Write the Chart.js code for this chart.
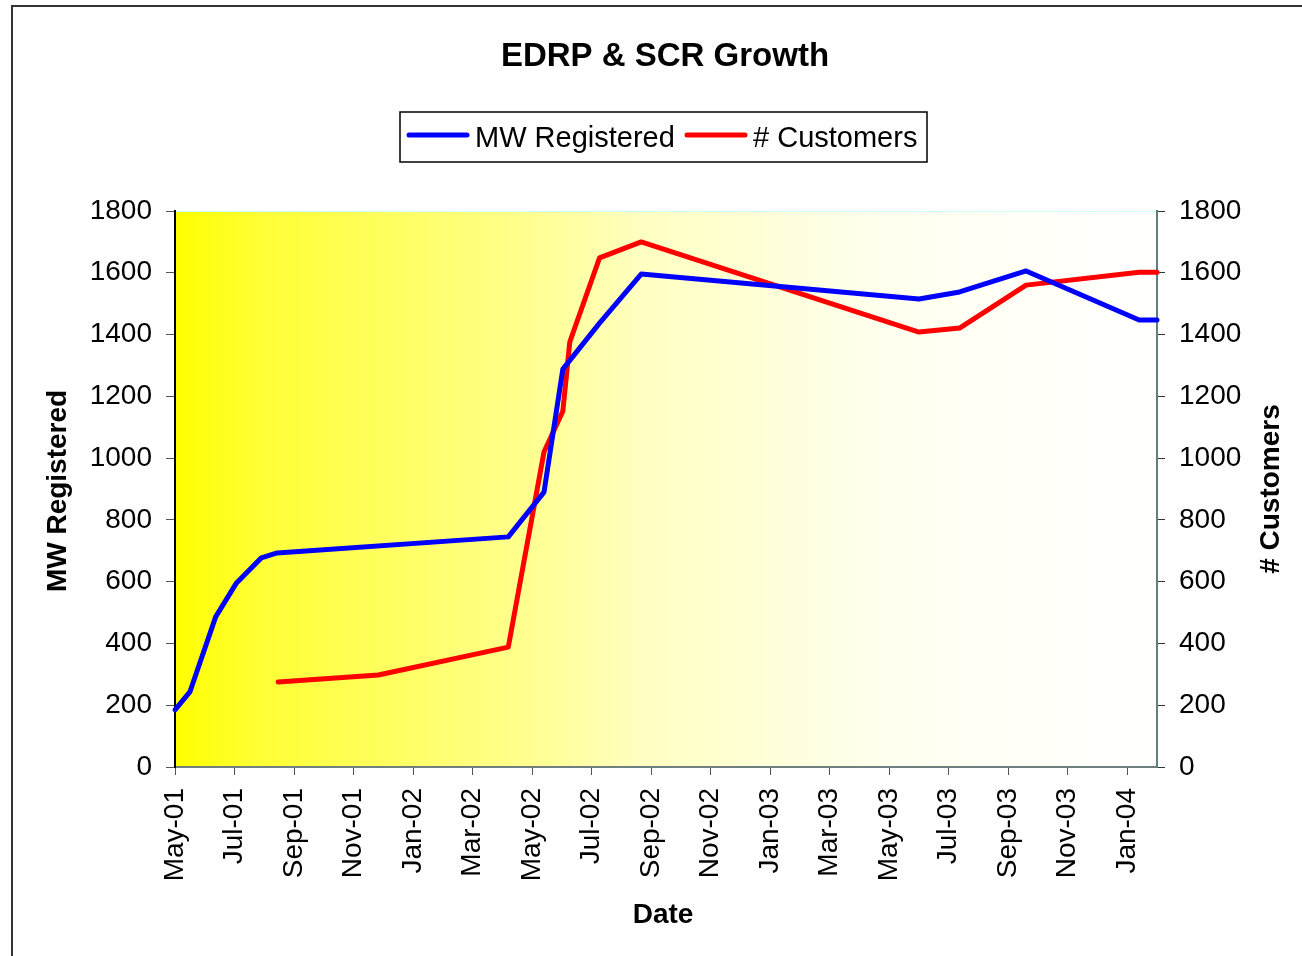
<!DOCTYPE html>
<html>
<head>
<meta charset="utf-8">
<title>EDRP & SCR Growth</title>
<script src="https://cdn.jsdelivr.net/npm/chart.js@4.4.1/dist/chart.umd.min.js"></script>
<style>
    body { margin: 0; background: #fff; }
    canvas { display: block; }
</style>
</head>
<body>
<canvas id="growthChart" width="1302" height="956"></canvas>
<script>
// Values
const tickLabels = ['May-01', 'Jul-01', 'Sep-01', 'Nov-01', 'Jan-02', 'Mar-02', 'May-02', 'Jul-02', 'Sep-02',
    'Nov-02', 'Jan-03', 'Mar-03', 'May-03', 'Jul-03', 'Sep-03', 'Nov-03', 'Jan-04'];

const mwDates = ['2001-05-01', '2001-05-16', '2001-06-12', '2001-07-03', '2001-07-28', '2001-08-14', '2002-04-07',
    '2002-05-13', '2002-06-02', '2002-07-09', '2002-08-21', '2003-06-01', '2003-07-12', '2003-09-19',
    '2004-01-13', '2004-02-01'];
const mwValues = [185, 243, 486, 596, 677, 693, 745, 890, 1288, 1437, 1596, 1515, 1538, 1606, 1447, 1447];

const custDates = ['2001-08-15', '2001-11-26', '2002-04-07', '2002-05-13', '2002-06-02', '2002-06-09', '2002-07-09',
    '2002-08-21', '2003-06-01', '2003-07-12', '2003-09-19', '2004-01-13', '2004-02-01'];
const custValues = [275, 298, 388, 1020, 1152, 1376, 1648, 1700, 1408, 1421, 1560, 1602, 1602];

// months since May 2001 (the axis runs in whole months, like the original)
function monthIndex(d) {
    const parts = d.split('-').map(Number);
    return (parts[0] - 2001) * 12 + (parts[1] - 5) + (parts[2] - 1) / 30;
}

function toPoints(dates, values) {
    return dates.map(function(d, i) {
        return { x: monthIndex(d), y: values[i] };
    });
}

const FONT = "'Liberation Sans', Arial, sans-serif";
Chart.defaults.font.family = FONT;
Chart.defaults.color = '#000';

const decorations = {
    id: 'decorations',
    beforeDraw(chart) {
        const ctx = chart.ctx;
        const a = chart.chartArea;
        const grad = ctx.createLinearGradient(a.left, 0, a.right, 0);
        grad.addColorStop(0, '#ffff00');
        grad.addColorStop(0.08, '#ffff32');
        grad.addColorStop(0.36, '#ffff90');
        grad.addColorStop(0.47, '#ffffc0');
        grad.addColorStop(0.72, '#ffffee');
        grad.addColorStop(1, '#ffffff');
        ctx.save();
        ctx.fillStyle = grad;
        ctx.fillRect(a.left, a.top, a.right - a.left, a.bottom - a.top);
        ctx.strokeStyle = '#ccffff';
        ctx.lineWidth = 1;
        ctx.beginPath();
        ctx.moveTo(a.left, a.top + 0.5);
        ctx.lineTo(a.right, a.top + 0.5);
        ctx.stroke();
        ctx.restore();
    },
    afterDraw(chart) {
        const ctx = chart.ctx;
        ctx.save();

        // outer frame
        ctx.strokeStyle = '#333';
        ctx.lineWidth = 2;
        ctx.strokeRect(12, 6, 1400, 1100);

        // title
        ctx.fillStyle = '#000';
        ctx.textAlign = 'center';
        ctx.textBaseline = 'alphabetic';
        ctx.font = 'bold 33px ' + FONT;
        ctx.fillText('EDRP & SCR Growth', 665, 66);

        // axis titles
        ctx.font = 'bold 28px ' + FONT;
        ctx.fillText('Date', 663, 923);
        ctx.textBaseline = 'middle';
        ctx.save();
        ctx.translate(58, 491);
        ctx.rotate(-Math.PI / 2);
        ctx.fillText('MW Registered', 0, 0);
        ctx.restore();
        ctx.save();
        ctx.translate(1271, 489);
        ctx.rotate(-Math.PI / 2);
        ctx.fillText('# Customers', 0, 0);
        ctx.restore();

        // legend box
        ctx.strokeStyle = '#000';
        ctx.lineWidth = 1.5;
        ctx.fillStyle = '#fff';
        ctx.fillRect(400, 112, 527, 50);
        ctx.strokeRect(400, 112, 527, 50);
        ctx.lineCap = 'round';
        ctx.lineWidth = 5;
        chart.data.datasets.forEach(function(ds, i) {
            const x0 = i === 0 ? 409 : 687;
            ctx.strokeStyle = ds.borderColor;
            ctx.beginPath();
            ctx.moveTo(x0, 135);
            ctx.lineTo(x0 + 58, 135);
            ctx.stroke();
            ctx.fillStyle = '#000';
            ctx.textAlign = 'left';
            ctx.textBaseline = 'alphabetic';
            ctx.font = '29px ' + FONT;
            ctx.fillText(ds.label, x0 + 66, 147);
        });

        ctx.restore();
    }
};

function plainNumber(v) {
    return String(v);
}

const ctx = document.getElementById('growthChart').getContext('2d');
const growthChart = new Chart(ctx, {
    type: 'line',
    data: {
        datasets: [{
            label: 'MW Registered',
            data: toPoints(mwDates, mwValues),
            borderColor: '#0000ff',
            yAxisID: 'y'
        }, {
            label: '# Customers',
            data: toPoints(custDates, custValues),
            borderColor: '#ff0000',
            yAxisID: 'y2'
        }]
    },
    options: {
        responsive: false,
        animation: false,
        devicePixelRatio: 1,
        layout: { padding: { top: 211, left: 0, right: 0, bottom: 0 } },
        elements: {
            line: { borderWidth: 5, tension: 0, borderCapStyle: 'round', borderJoinStyle: 'round', fill: false },
            point: { radius: 0, hoverRadius: 0 }
        },
        datasets: { line: { clip: 4 } },
        plugins: {
            legend: { display: false },
            title: { display: false },
            tooltip: { enabled: false }
        },
        scales: {
            x: {
                type: 'linear',
                min: 0,
                max: 33,
                afterFit: function(s) { s.height = 189; },
                afterBuildTicks: function(s) {
                    s.ticks = tickLabels.map(function(t, i) { return { value: i * 2 }; });
                },
                ticks: {
                    autoSkip: false,
                    maxRotation: 90,
                    minRotation: 90,
                    padding: 13,
                    font: { size: 28 },
                    callback: function(v) { return tickLabels[v / 2]; }
                },
                grid: { drawOnChartArea: false, drawTicks: true, tickLength: 8, tickColor: '#555' },
                border: { color: '#708080', width: 2 }
            },
            y: {
                position: 'left',
                min: 0,
                max: 1800,
                afterFit: function(s) { s.width = 175; },
                ticks: { stepSize: 200, padding: 14, font: { size: 28 }, callback: plainNumber },
                grid: { drawOnChartArea: false, drawTicks: true, tickLength: 9, tickColor: '#555' },
                border: { color: '#000', width: 2 }
            },
            y2: {
                position: 'right',
                min: 0,
                max: 1800,
                afterFit: function(s) { s.width = 145; },
                ticks: { stepSize: 200, padding: 14, font: { size: 28 }, callback: plainNumber },
                grid: { drawOnChartArea: false, drawTicks: true, tickLength: 8, tickColor: '#333' },
                border: { color: '#5f7f7f', width: 2 }
            }
        }
    },
    plugins: [decorations]
});
</script>
</body>
</html>
